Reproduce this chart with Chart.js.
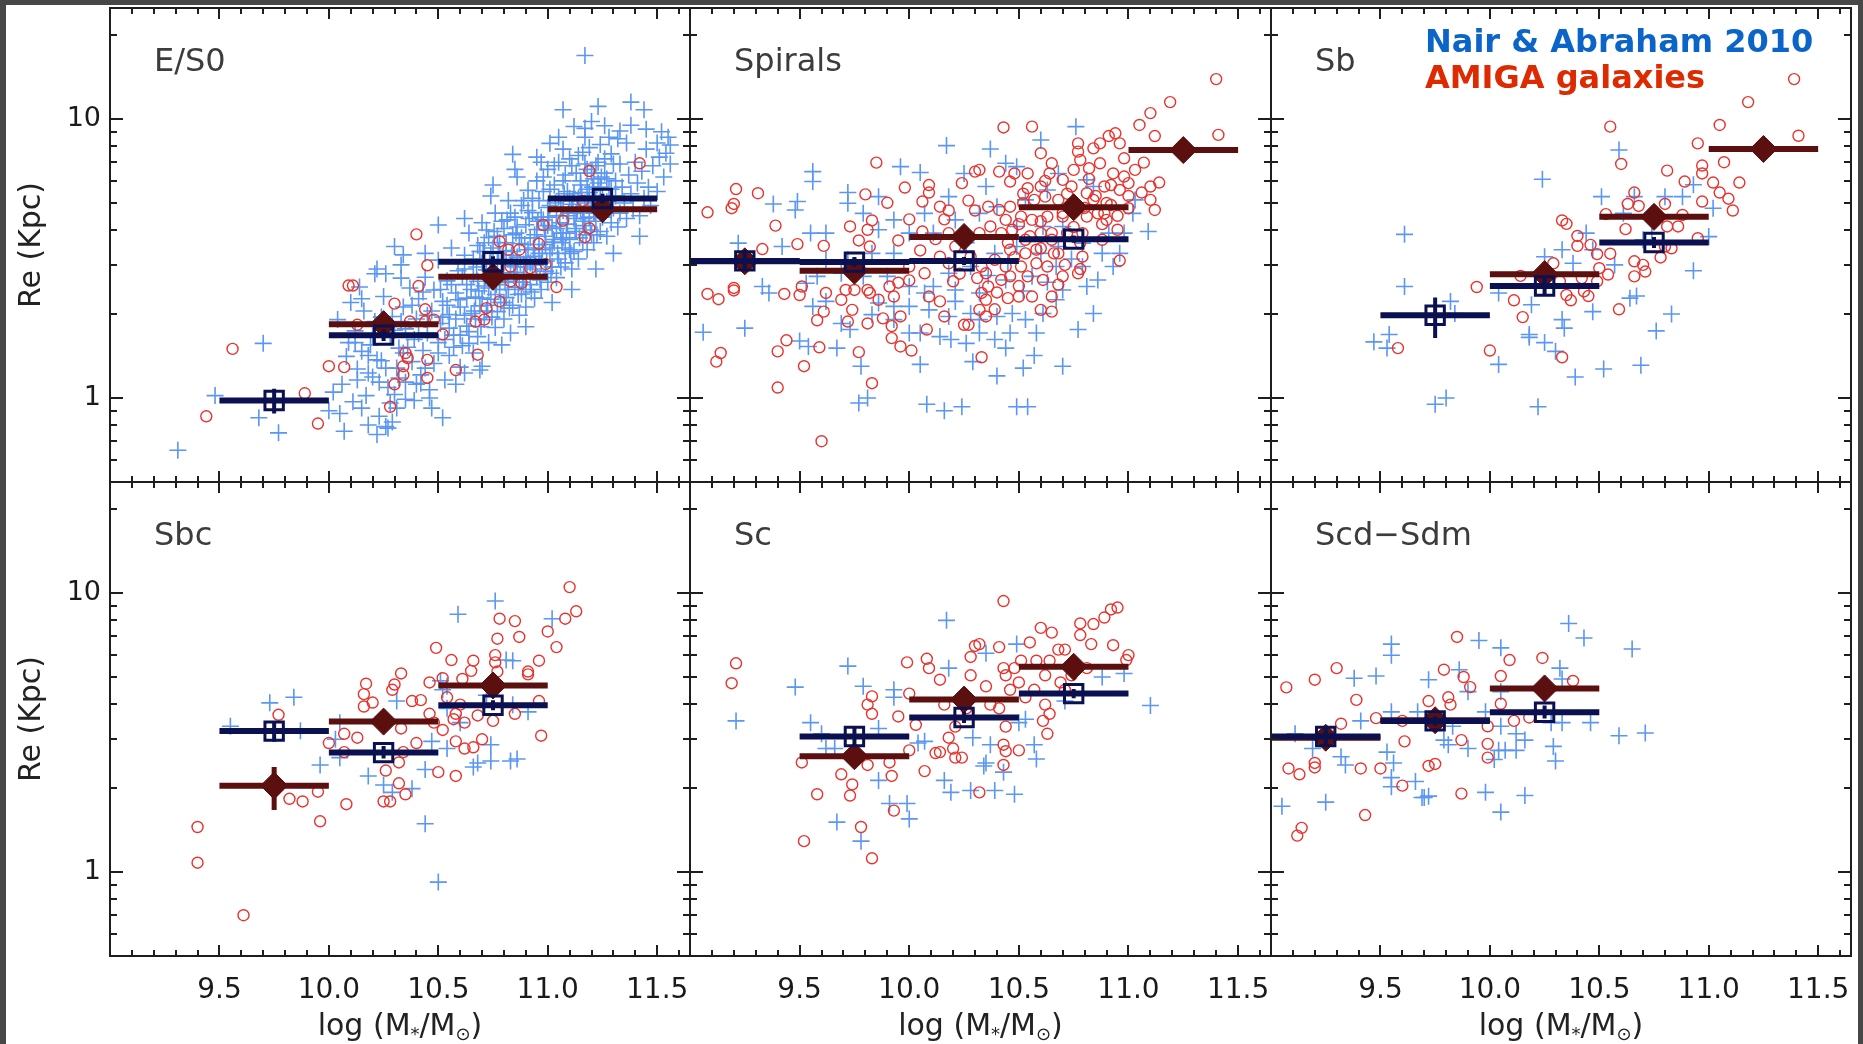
<!DOCTYPE html>
<html>
<head>
<meta charset="utf-8">
<title>Re vs stellar mass</title>
<script src="https://cdn.jsdelivr.net/npm/chart.js@4.4.1/dist/chart.umd.min.js"></script>
<style>
  html, body { margin: 0; padding: 0; }
  body { position: relative; width: 1863px; height: 1044px; overflow: hidden; background: #474747; font-family: 'DejaVu Sans', sans-serif; }
  #sheet { position: absolute; left: 6px; top: 5px; width: 1852px; height: 1039px; background: #fff; }
  canvas { position: absolute; left: 0; top: 0; }
  .panel-label { position: absolute; font-size: 32px; line-height: 32px; color: #3c3c3c; white-space: nowrap; }
  .legend { position: absolute; left: 1425px; font-size: 32px; line-height: 32px; font-weight: bold; white-space: nowrap; }
  .xtitle { position: absolute; width: 400px; text-align: center; font-size: 30px; line-height: 30px; color: #222; white-space: nowrap; }
  .xtitle sub { font-size: 60%; line-height: 0; vertical-align: -0.3em; }
  .ytitle { position: absolute; width: 200px; height: 36px; line-height: 36px; text-align: center; font-size: 30px; color: #222; transform: rotate(-90deg); white-space: nowrap; }
</style>
</head>
<body>
<div id="sheet"></div>
<div id="plots"></div>
<div class="legend" style="top:25px;color:#0b64c8">Nair &amp; Abraham 2010</div>
<div class="legend" style="top:61px;color:#dd2a00">AMIGA galaxies</div>
<script>
// ---- axes ----
const xTickValues = [9.5, 10.0, 10.5, 11.0, 11.5];
const xMinorTicks = [9.1, 9.2, 9.3, 9.4, 9.6, 9.7, 9.8, 9.9, 10.1, 10.2, 10.3, 10.4, 10.6, 10.7, 10.8, 10.9, 11.1, 11.2, 11.3, 11.4, 11.6];
const yTickValues = [1, 10];
const yMinorTicks = [0.6, 0.7, 0.8, 0.9, 2, 3, 4, 5, 6, 7, 8, 9, 20];
const panelNames = ['E/S0', 'Spirals', 'Sb', 'Sbc', 'Sc', 'Scd\u2212Sdm'];
const BIN_HALF = 0.25;

// ---- E/S0 ----
const esoNair = [
  // outskirts
  [9.31,0.65],[9.48,1.02],[9.70,1.57],[9.68,0.85],[9.77,0.75],[10.0,0.90],[10.07,0.76],[10.22,0.74],[10.26,0.79],[10.29,0.82],[10.52,0.85],
  [11.17,16.9],[11.07,10.8],[11.23,11.1],[11.38,11.5],[11.44,10.8],[11.52,9.0],[11.56,8.07],[11.54,7.54],[11.33,9.06],[11.26,9.46],[11.17,9.26],
  [11.01,8.18],[10.84,7.47],[10.50,4.17],[10.30,3.49],[10.34,3.26],[10.21,2.79],[10.26,2.79],[10.33,2.69],[10.15,2.27],[10.04,1.91],[10.09,1.58],
  [10.15,1.47],[10.13,1.16],[10.18,1.23],[10.22,1.37],[10.34,1.45],[10.30,1.03],[10.35,0.99],[10.46,1.00],[10.42,1.13],[10.62,1.23],[10.69,1.26],[10.64,1.57],
  // low-mass end of the band
  [10.06,1.12],[10.08,1.41],[10.11,0.97],[10.12,1.74],[10.13,1.27],[10.16,2.05],[10.17,1.02],[10.19,1.55],[10.20,1.19],[10.21,1.88],[10.23,0.86],
  [10.24,1.36],[10.25,2.31],[10.27,1.09],[10.28,1.66],[10.29,1.96],[10.31,0.92],[10.31,1.28],[10.32,1.51],[10.34,2.12],[10.35,1.14],[10.35,1.77],
  [10.37,2.48],[10.38,1.35],[10.39,0.98],[10.39,1.62],
  [10.12,1.58],[10.15,0.92],[10.18,1.42],[10.20,1.67],[10.23,1.14],[10.24,1.95],[10.26,1.28],[10.28,0.96],[10.30,1.75],[10.32,1.18],[10.33,1.88],
  [10.36,1.52],[10.38,2.15],[10.40,1.12],[10.41,1.70],[10.43,2.40],[10.44,1.28],[10.45,1.98],
  [10.40,1.92],[10.41,2.27],[10.42,1.21],[10.43,1.48],[10.44,2.71],[10.45,1.71],[10.46,1.07],[10.47,2.05],[10.48,1.33],[10.48,2.44],[10.50,1.58],
  [10.50,3.12],[10.51,1.85],[10.52,2.22],[10.53,1.16],[10.54,2.63],[10.55,1.42],[10.55,1.99],[10.56,3.45],[10.57,1.68],[10.58,2.38],[10.59,2.86],
  [10.60,1.29],[10.60,2.12],[10.61,1.54],[10.62,3.25],[10.63,1.81],[10.63,2.55],[10.64,3.90],[10.65,2.01],
  [10.50,1.45],[10.51,2.45],[10.52,1.95],[10.53,1.62],[10.54,2.15],[10.55,1.78],[10.56,2.55],[10.57,1.52],[10.58,1.92],[10.59,2.25],[10.60,1.68],
  [10.61,2.72],[10.62,1.98],[10.63,2.28],[10.64,1.73],[10.65,2.45],[10.66,3.15],[10.67,1.92],[10.68,2.62],[10.69,3.35],[10.70,2.28],
  // core
  [10.66,1.45],[10.66,2.76],[10.67,2.30],[10.68,3.52],[10.68,1.66],[10.69,2.14],[10.70,3.05],[10.70,4.25],[10.71,1.91],[10.71,2.52],[10.72,2.88],
  [10.73,1.58],[10.73,3.76],[10.74,2.26],[10.74,3.30],[10.75,2.64],[10.76,1.79],[10.76,4.60],[10.77,2.04],[10.77,3.12],[10.78,2.45],[10.78,3.61],
  [10.79,2.81],[10.80,1.92],[10.80,4.05],[10.81,2.29],[10.81,3.38],[10.82,2.62],[10.82,5.10],[10.83,2.98],[10.83,1.71],[10.84,3.85],[10.84,2.15],
  [10.85,2.49],[10.85,4.45],[10.86,3.20],[10.86,2.82],[10.87,1.98],[10.87,3.58],[10.88,2.36],[10.88,4.90],[10.89,3.02],[10.89,2.68],[10.90,4.18],
  [10.90,2.12],[10.91,3.40],[10.91,5.55],[10.92,2.55],[10.92,3.75],[10.93,2.90],[10.93,4.62],[10.94,2.28],[10.94,3.22],[10.95,2.72],[10.95,4.02],
  [10.665,2.05],[10.675,2.95],[10.685,2.42],[10.695,1.80],[10.705,3.35],[10.715,2.70],[10.725,2.15],[10.735,3.05],[10.745,1.95],[10.755,3.95],
  [10.765,2.55],[10.775,3.35],[10.785,2.20],[10.795,3.10],[10.805,2.60],[10.815,4.35],[10.825,2.10],[10.835,3.25],[10.845,2.75],[10.855,3.90],
  [10.865,2.35],[10.875,3.05],[10.885,2.60],[10.895,3.55],[10.905,2.95],[10.915,4.40],[10.925,2.40],[10.935,3.45],[10.945,3.00],[10.955,4.30],
  [10.71,3.60],[10.72,2.05],[10.72,4.00],[10.73,2.48],[10.74,2.90],[10.75,3.45],[10.76,2.35],[10.77,3.80],[10.78,2.65],[10.79,4.30],[10.80,3.05],
  [10.80,2.20],[10.81,3.60],[10.82,2.45],[10.83,4.60],[10.84,3.35],[10.85,2.95],[10.86,4.10],[10.87,2.60],[10.88,3.75],[10.89,5.10],[10.90,3.20],[10.90,2.45],
  [10.96,3.55],[10.96,5.10],[10.97,2.45],[10.97,3.05],[10.98,4.35],[10.98,6.20],[10.99,2.85],[10.99,3.80],[11.00,2.60],[11.00,4.82],[11.01,3.30],
  [11.01,5.60],[11.02,2.95],[11.02,4.10],[11.03,3.62],[11.03,6.80],[11.04,2.70],[11.04,4.50],[11.05,3.15],[11.05,5.25],[11.06,3.90],[11.06,2.95],
  [11.07,4.70],[11.07,6.00],[11.08,3.45],[11.08,3.05],[11.09,4.20],[11.09,5.50],[11.10,3.70],[11.10,7.20],[11.11,2.90],[11.11,4.95],[11.12,3.35],
  [11.12,4.40],[11.13,6.40],[11.13,3.95],[11.14,5.20],[11.14,3.15],[11.15,4.65],[11.15,5.80],[11.16,3.60],[11.16,7.60],[11.17,4.15],[11.17,5.00],
  [11.18,3.40],[11.18,6.60],[11.19,4.45],[11.19,5.45],[11.20,3.85],[11.20,4.90],[11.21,6.10],[11.21,3.60],[11.22,5.30],[11.22,4.30],[11.23,7.00],
  [11.23,4.70],[11.24,3.95],[11.24,5.70],
  [10.965,2.65],[10.975,3.40],[10.985,4.00],[10.995,3.10],[11.005,4.45],[11.015,2.80],[11.025,3.70],[11.035,5.00],[11.045,3.30],[11.055,4.25],
  [11.065,3.60],[11.075,5.40],[11.085,3.90],[11.095,4.60],[11.105,3.30],[11.115,5.10],[11.125,4.05],[11.135,4.75],[11.145,3.75],[11.155,5.45],
  [11.165,4.40],[11.175,3.85],[11.185,5.10],[11.195,4.00],[11.205,5.70],[11.215,4.60],[11.225,3.85],[11.235,5.00],[11.245,6.20],
  [10.91,4.70],[10.92,3.05],[10.93,5.20],[10.94,3.85],[10.95,6.00],[10.96,3.30],[10.97,4.45],[10.98,5.50],[10.99,3.55],[11.00,6.60],[11.00,4.15],
  [11.01,4.90],[11.02,3.45],[11.03,5.80],[11.04,4.05],[11.05,7.00],[11.06,4.80],[11.07,3.75],[11.08,6.30],[11.09,4.50],[11.10,5.20],[11.10,3.40],
  [11.11,6.80],[11.12,5.40],[11.13,4.60],[11.14,7.40],[11.15,6.00],[11.16,4.30],[11.17,6.90],[11.18,5.60],[11.19,7.90],[11.20,6.40],[11.21,4.60],
  [11.22,6.80],[11.23,5.90],[11.24,8.10],[11.25,5.20],[11.26,7.20],[11.27,6.10],[11.28,8.60],[11.29,5.60],[11.30,6.90],
  // high-mass end
  [11.25,4.45],[11.26,6.40],[11.27,5.05],[11.27,3.80],[11.28,5.60],[11.29,4.25],[11.29,7.50],[11.30,4.80],[11.31,6.00],[11.31,5.30],[11.32,4.10],
  [11.33,6.90],[11.33,4.60],[11.34,5.70],[11.35,5.00],[11.36,8.20],[11.36,4.40],[11.37,6.30],[11.38,5.40],[11.39,4.75],[11.40,7.00],[11.41,5.90],
  [11.42,4.50],[11.43,6.50],[11.44,5.20],[11.45,7.80],[11.46,5.70],[11.47,4.90],[11.48,6.80],[11.50,5.50],[11.51,7.30],[11.53,6.20],[11.55,8.60],[11.56,6.90],
  // band edges
  [10.02,1.05],[10.05,0.88],[10.10,2.20],[10.14,2.50],[10.18,0.80],[10.22,2.90],[10.27,0.78],[10.33,3.00],[10.44,3.30],[10.47,0.92],[10.58,1.12],
  [10.62,4.40],[10.70,1.30],[10.74,5.30],[10.79,1.55],[10.86,6.20],[10.90,1.80],[10.97,7.00],[11.02,2.20],[11.07,7.80],[11.11,2.45],[11.17,8.60],
  [11.22,2.90],[11.30,3.30],[11.38,9.50],[11.42,3.80],[10.62,2.90],[10.75,5.80],[10.85,6.60],[10.95,7.30],[11.05,8.60],[11.12,9.40],[11.20,9.80],
  [11.32,8.50],[11.45,9.20],[11.50,8.20]
];
const esoAmiga = [
  [9.56,1.50],[9.44,0.86],[9.89,1.04],[9.95,0.81],[10.0,1.30],[10.07,1.29],[10.09,2.53],[10.11,2.53],[10.13,1.83],[10.28,0.93],[10.30,1.12],[10.30,2.18],
  [10.40,3.86],[10.45,2.99],[10.41,2.52],[10.44,2.08],[10.48,1.91],[10.36,1.39],[10.34,1.30],[10.34,1.21],[10.45,1.37],[10.45,1.18],[10.52,1.69],
  [10.58,1.26],[10.68,1.43],[10.67,1.88],[10.71,1.91],[10.72,2.10],[10.78,2.22],[10.78,3.64],[10.82,3.40],[10.87,3.40],[10.96,3.57],[10.83,2.96],
  [10.92,2.92],[10.99,3.02],[10.88,2.58],[10.83,2.62],[11.04,2.50],[10.98,4.17],[11.07,4.32],[11.17,3.77],[11.19,4.06],[11.16,5.09],[11.19,6.51],
  [11.42,6.94],[10.44,1.88],[10.37,1.88],[10.35,1.45]
];
const esoNairBins = [9.75, 10.25, 10.75, 11.25];
const esoNairMean = [0.98, 1.68, 3.08, 5.19];
const esoNairLo = [0.88, 1.60, 2.94, 4.98];
const esoNairHi = [1.08, 1.76, 3.22, 5.40];
const esoAmigaBins = [10.25, 10.75, 11.25];
const esoAmigaMean = [1.84, 2.72, 4.75];
const esoAmigaLo = [1.74, 2.58, 4.52];
const esoAmigaHi = [1.95, 2.86, 4.98];

// ---- Spirals ----
const spiNair = [
  [9.06,1.72],[9.25,1.78],[9.56,6.48],[9.56,5.97],[9.49,5.06],[9.48,4.72],[9.38,4.96],[9.72,5.45],[9.72,4.99],[9.96,6.75],[10.05,6.43],[10.17,8.03],
  [10.37,7.81],[10.60,8.41],[10.76,9.39],[11.09,3.95],[10.84,2.01],[10.77,1.76],[10.70,1.30],[10.57,1.42],[10.52,1.28],[10.44,1.51],[10.40,1.20],
  [10.29,1.35],[10.05,1.32],[9.78,1.30],[9.67,1.51],[9.77,0.96],[9.81,1.00],[10.08,0.95],[10.16,0.90],[10.24,0.93],[10.49,0.93],[10.54,0.93],
  [9.54,1.53],[9.50,1.60],[9.33,2.51],[9.36,2.38],[9.22,3.59],[9.42,3.49],[9.55,3.90],[9.62,3.90],[9.53,2.58],[9.56,2.13],[9.62,2.22],[9.69,1.85],
  [9.73,1.76],[9.83,1.99],[9.86,2.19],[9.93,1.91],[10.0,2.13],[10.05,1.71],[10.14,1.66],[10.19,1.62],[10.26,1.57],[10.18,1.96],[10.21,2.22],
  [10.09,2.07],[10.32,1.91],[10.40,1.96],[10.47,2.01],[10.53,1.91],[10.61,2.01],[10.67,2.25],[10.70,2.44],[10.81,2.51],[10.86,2.65],[10.93,2.96],
  [10.96,3.30],[11.02,4.59],[11.03,5.13],[9.86,5.27],[9.79,4.59],[9.93,4.35],[9.86,4.01],[10.0,3.90],[10.07,4.59],[10.18,5.27],[10.25,6.38],
  [10.35,5.73],[10.44,6.94],[10.49,6.75],[10.68,6.38],[10.81,6.05],[10.84,5.73],[10.63,5.57],[10.53,5.13],[10.40,4.85],[10.32,4.59],[10.21,4.35],
  [10.11,3.90],[9.93,3.30],[9.83,3.30],[9.72,3.13],[9.62,3.13],[9.69,2.80],[9.58,2.73],[9.79,2.73],[9.90,2.73],[10.0,2.51],[10.11,2.51],[10.18,2.80],
  [10.28,2.96],[10.39,3.30],[10.49,3.49],[10.60,3.30],[10.68,3.49],[10.79,3.59],[10.88,3.30],[10.91,3.90],[10.98,3.90],[10.70,4.12],[10.61,4.12],
  [10.49,4.12],[10.44,2.65],[10.56,2.73],[10.67,2.96],[10.79,2.96],[10.32,2.38],[10.21,2.44],[10.07,2.38],[9.93,2.13],[10.0,1.71],[10.46,1.71],
  [10.58,1.71],[10.39,1.62],[10.28,2.01],[10.32,1.71],[10.36,2.75],[10.52,2.42],[10.63,2.60],[10.45,3.05],[10.74,3.15],[10.26,3.60]
];
const spiAmiga = [
  [9.08,4.63],[9.21,5.61],[9.19,4.79],[9.20,4.96],[9.31,5.42],[9.39,4.15],[9.33,3.42],[9.08,2.36],[9.13,2.26],[9.20,2.43],[9.20,2.48],[9.43,2.36],
  [9.50,2.34],[9.51,2.51],[9.49,3.56],[9.61,3.51],[9.14,1.45],[9.12,1.35],[9.40,1.47],[9.44,1.61],[9.59,1.52],[9.52,1.30],[9.40,1.09],[9.60,0.70],
  [9.77,1.46],[9.83,1.13],[9.85,6.98],[9.80,5.37],[9.90,5.01],[9.98,5.68],[9.73,4.12],[9.81,4.01],[9.83,4.33],[9.77,3.67],[9.82,3.49],[9.61,2.04],
  [9.58,1.90],[9.72,1.88],[9.74,2.07],[9.69,2.25],[9.75,2.44],[9.81,2.44],[9.82,2.38],[9.81,1.85],[9.88,1.93],[9.92,1.81],[9.96,1.96],[9.92,1.64],
  [9.96,1.53],[10.01,1.48],[9.91,2.51],[9.95,2.59],[10.0,2.64],[10.0,2.96],[10.05,3.38],[9.95,3.67],[10.0,4.37],[10.06,5.06],[10.09,5.80],[10.09,5.45],
  [10.14,4.85],[10.18,4.70],[10.16,4.37],[10.24,5.89],[10.30,6.48],[10.32,6.57],[10.41,6.48],[10.43,9.33],[10.56,9.39],[10.27,5.10],[10.30,4.70],
  [10.36,4.85],[10.06,3.95],[10.12,3.71],[10.07,2.80],[10.09,2.31],[10.14,2.22],[10.20,2.62],[10.23,2.79],[10.16,1.96],[10.08,1.76],[10.25,1.83],
  [10.27,1.83],[10.33,1.40],[10.32,2.07],[10.35,1.96],[10.39,2.08],[10.35,2.25],[10.33,2.38],[10.36,2.51],[10.31,2.69],[10.35,2.80],[10.40,2.39],
  [10.45,2.28],[10.50,2.31],[10.50,2.52],[10.56,2.31],[10.60,2.07],[10.65,2.04],[10.65,2.31],[10.68,2.55],[10.77,2.80],[10.78,2.90],[10.71,3.00],
  [10.79,3.21],[10.96,3.11],[10.95,4.01],[10.90,4.35],[10.89,4.59],[10.92,4.92],[11.0,4.79],[11.12,4.72],[11.10,5.13],[11.06,5.45],[11.14,5.92],
  [11.10,5.73],[11.07,6.98],[11.03,6.57],[10.98,6.22],[10.98,7.23],[10.96,8.18],[10.94,8.89],[10.91,8.69],[10.87,8.18],[10.84,7.85],[10.77,8.18],
  [10.77,7.64],[10.78,7.13],[10.82,6.66],[10.87,6.94],[11.05,9.52],[11.10,10.5],[11.12,8.69],[11.19,11.5],[11.40,13.9],[11.41,8.77],[10.60,7.54],
  [10.65,6.94],[10.54,6.38],[10.48,6.38],[10.46,5.97],[10.54,5.65],[10.60,5.73],[10.64,6.38],[10.70,6.05],[10.74,5.73],[10.68,5.13],[10.62,5.27],
  [10.57,5.13],[10.52,4.99],[10.46,4.85],[10.41,4.72],[10.44,4.35],[10.51,4.47],[10.56,4.35],[10.63,4.47],[10.70,4.47],[10.81,4.47],[10.86,4.59],
  [10.84,5.13],[10.81,5.42],[10.89,5.73],[10.96,5.57],[11.0,5.89],[10.93,6.38],[10.75,6.57],[10.32,3.90],[10.37,4.12],[10.42,3.90],[10.47,4.01],
  [10.53,3.69],[10.60,3.90],[10.65,3.69],[10.72,3.90],[10.79,3.90],[10.88,3.69],[10.46,3.40],[10.53,3.30],[10.60,3.44],[10.66,3.30],[10.39,3.13],
  [10.44,2.96],[10.51,2.96],[10.58,3.04],[10.63,2.96],[10.70,2.73],[10.61,2.65],[10.54,2.73],[10.46,2.73],[10.42,2.65],[10.18,3.90],[10.21,3.49],
  [10.14,3.21],[10.18,3.04],[10.28,3.21],[10.33,2.96],[9.93,2.31],[9.86,2.25],[9.71,2.44],[9.62,2.38],
  [10.45,3.60],[10.50,4.20],[10.55,3.80],[10.60,4.30],[10.65,3.90],[10.70,4.60],[10.75,4.10],[10.80,4.80],[10.85,5.30],[10.90,5.00],[10.52,5.40],
  [10.62,6.00],[10.72,5.40],[10.82,6.10],[10.92,5.80],[10.48,3.20],[10.58,3.40],[10.68,3.30],[10.78,3.60],[10.88,4.20],[10.95,4.50],[11.0,5.30]
];
const spiNairBins = [9.25, 9.75, 10.25, 10.75];
const spiNairMean = [3.10, 3.07, 3.10, 3.71];
const spiNairLo = [2.90, 2.95, 3.00, 3.60];
const spiNairHi = [3.30, 3.20, 3.20, 3.82];
const spiAmigaBins = [9.25, 9.75, 10.25, 10.75, 11.25];
const spiAmigaMean = [3.09, 2.86, 3.78, 4.83, 7.74];
const spiAmigaLo = [2.85, 2.75, 3.66, 4.70, 7.50];
const spiAmigaHi = [3.35, 2.98, 3.90, 4.96, 8.00];

// ---- Sb ----
const sbNair = [
  [9.61,3.86],[9.61,2.51],[9.47,1.59],[9.54,1.69],[9.53,1.51],[9.75,0.95],[9.80,1.00],[9.82,2.22],[9.84,2.01],[10.04,2.38],[10.04,1.32],[10.18,1.69],
  [10.18,1.65],[10.19,2.16],[10.25,1.58],[10.30,1.47],[10.24,6.08],[10.25,3.21],[10.33,3.40],[10.33,1.91],[10.34,1.78],[10.39,1.19],[10.38,3.04],
  [10.44,3.90],[10.47,2.04],[10.51,5.27],[10.52,1.27],[10.57,3.00],[10.59,7.74],[10.64,2.28],[10.67,2.32],[10.69,1.31],[10.76,1.74],[10.83,2.00],
  [10.93,2.86],[10.88,5.27],[10.93,5.81],[10.80,5.27],[11.02,4.79],[11.0,3.79],[10.66,5.27],[10.61,4.59],[10.70,3.69],[10.74,3.90],[10.47,3.40],[10.22,0.93]
];
const sbAmiga = [
  [11.39,13.9],[11.18,11.5],[11.05,9.52],[11.41,8.71],[10.55,9.39],[10.60,6.90],[10.95,8.18],[10.97,6.81],[10.97,6.38],[11.07,7.00],[10.81,6.53],
  [10.89,5.97],[11.02,5.92],[11.14,5.92],[11.05,5.45],[11.09,5.18],[11.11,4.70],[10.97,5.06],[10.66,5.45],[10.63,4.96],[10.68,4.88],[10.80,4.96],
  [10.88,4.53],[10.86,4.12],[10.81,4.12],[10.62,4.03],[10.53,4.56],[10.95,3.74],[10.33,4.33],[10.35,4.21],[10.40,3.81],[10.40,3.51],[10.46,3.54],
  [10.49,3.28],[10.55,3.29],[10.29,3.04],[10.66,3.09],[10.70,3.00],[10.71,2.84],[10.66,2.73],[10.50,2.92],[10.54,2.77],[10.80,3.49],[10.83,3.44],
  [10.78,3.19],[10.14,2.74],[10.32,2.62],[10.42,2.69],[10.49,2.62],[10.35,2.34],[10.45,2.32],[10.37,2.24],[10.43,2.41],[10.11,2.24],[9.94,2.50],
  [10.15,1.95],[10.59,2.08],[10.0,1.48],[9.58,1.51],[10.33,1.40]
];
const sbNairBins = [9.75, 10.25, 10.75];
const sbNairMean = [1.98, 2.52, 3.61];
const sbNairLo = [1.64, 2.36, 3.45];
const sbNairHi = [2.29, 2.70, 3.78];
const sbAmigaBins = [10.25, 10.75, 11.25];
const sbAmigaMean = [2.78, 4.46, 7.81];
const sbAmigaLo = [2.65, 4.30, 7.50];
const sbAmigaHi = [2.92, 4.63, 8.12];

// ---- Sbc ----
const sbcNair = [
  [10.76,9.36],[10.59,8.39],[11.02,8.09],[10.81,5.75],[10.84,5.72],[9.73,4.04],[9.84,4.23],[9.55,3.33],[9.87,3.21],[10.31,4.10],[10.51,4.85],
  [10.52,4.50],[10.54,4.63],[10.03,2.99],[10.05,3.43],[9.96,2.42],[10.05,2.57],[10.18,2.21],[10.25,2.05],[10.29,1.93],[10.38,1.99],[10.44,2.33],
  [10.47,2.94],[10.54,2.77],[10.66,2.38],[10.68,2.46],[10.74,2.50],[10.74,2.86],[10.83,2.50],[10.86,2.54],[10.91,3.75],[10.72,4.30],[10.54,3.86],
  [10.60,3.43],[10.44,1.49],[10.50,0.92],[10.84,3.98]
];
const sbcAmiga = [
  [11.10,10.5],[11.13,8.60],[11.08,8.09],[11.0,7.28],[11.04,6.40],[10.78,8.09],[10.85,7.93],[10.77,6.86],[10.87,6.96],[10.49,6.36],[10.56,5.75],
  [10.66,5.72],[10.76,5.99],[10.76,5.64],[10.96,5.72],[10.91,5.23],[10.91,5.11],[10.65,5.26],[10.61,4.92],[10.77,5.23],[10.52,4.95],[10.46,4.78],
  [10.33,5.15],[10.30,4.70],[10.17,4.73],[10.16,4.34],[10.20,4.05],[10.16,3.92],[10.29,4.50],[10.38,4.10],[10.42,4.13],[10.54,4.23],[10.60,3.98],
  [10.57,3.53],[10.62,3.43],[10.58,3.69],[10.46,3.69],[10.48,3.43],[10.52,3.23],[10.68,3.64],[10.75,3.48],[10.96,4.10],[10.85,3.69],[10.97,3.08],
  [10.70,2.99],[10.66,2.80],[10.62,2.77],[10.58,2.94],[10.33,3.27],[10.40,2.90],[10.50,2.28],[10.58,2.21],[10.34,2.69],[10.32,2.47],[10.26,2.31],
  [10.25,1.79],[10.28,1.79],[10.32,2.08],[10.35,1.90],[10.08,1.75],[10.07,3.13],[10.13,3.03],[10.0,2.90],[10.07,2.69],[9.77,3.66],[9.82,1.83],
  [9.88,1.79],[9.95,1.94],[9.96,1.52],[9.40,1.45],[9.40,1.08],[9.61,0.70]
];
const sbcNairBins = [9.75, 10.25, 10.75];
const sbcNairMean = [3.20, 2.68, 3.96];
const sbcNairLo = [2.93, 2.55, 3.80];
const sbcNairHi = [3.47, 2.83, 4.13];
const sbcAmigaBins = [9.75, 10.25, 10.75];
const sbcAmigaMean = [2.04, 3.46, 4.66];
const sbcAmigaLo = [1.67, 3.32, 4.50];
const sbcAmigaHi = [2.38, 3.60, 4.83];

// ---- Sc ----
const scNair = [
  [9.21,3.48],[9.48,4.60],[9.72,5.47],[10.17,7.98],[11.10,3.95],[9.67,1.51],[9.78,1.29],[10.0,1.55],[9.91,1.76],[9.99,1.76],[9.55,3.43],[9.60,3.13],
  [9.66,2.77],[9.62,2.77],[9.79,4.63],[9.86,3.27],[9.93,4.50],[9.93,4.23],[9.86,2.13],[10.04,2.90],[10.07,2.94],[10.18,5.38],[10.16,2.13],[10.19,1.93],
  [10.28,1.96],[10.29,3.03],[10.34,2.40],[10.35,2.46],[10.39,1.96],[10.48,1.90],[10.43,2.28],[10.37,2.86],[10.35,6.08],[10.49,6.56],[10.53,3.53],
  [10.57,2.86],[10.58,2.54],[10.88,5.00],[10.98,5.15],[10.50,3.43],[10.71,4.10]
];
const scAmiga = [
  [9.21,5.60],[9.19,4.75],[9.52,1.29],[9.83,1.12],[9.78,1.45],[9.73,1.88],[9.58,1.90],[9.74,2.06],[9.69,2.24],[9.51,2.47],[9.93,1.66],[9.92,2.21],
  [9.81,2.42],[9.91,2.47],[10.0,2.73],[10.07,2.30],[10.12,2.67],[10.14,2.69],[10.21,2.57],[10.24,2.57],[10.32,1.93],[10.20,2.77],[10.43,2.42],
  [10.44,2.71],[10.50,2.73],[9.83,4.26],[9.81,3.98],[9.83,3.69],[9.95,3.61],[10.0,4.36],[10.03,3.37],[9.99,5.64],[10.08,5.81],[10.09,5.38],[10.14,4.89],
  [10.16,3.98],[10.18,3.03],[10.21,3.32],[10.26,3.86],[10.28,5.07],[10.28,5.90],[10.30,6.46],[10.32,6.56],[10.41,6.40],[10.43,9.36],[10.35,4.63],
  [10.37,3.98],[10.41,3.86],[10.43,5.38],[10.44,5.07],[10.46,4.50],[10.44,3.32],[10.43,2.86],[10.48,5.38],[10.50,4.78],[10.51,5.72],[10.55,6.65],
  [10.60,7.50],[10.65,7.21],[10.58,5.72],[10.64,5.72],[10.68,6.27],[10.78,7.78],[10.78,7.07],[10.84,7.74],[10.89,8.17],[10.92,8.73],[10.95,8.87],
  [10.83,6.56],[10.93,6.50],[11.0,5.99],[10.99,5.75],[10.71,6.27],[10.62,5.07],[10.57,4.50],[10.62,3.98],[10.53,4.23],[10.64,3.69],[10.61,3.48],
  [10.63,3.13],[10.69,4.78],[10.74,5.07],[10.81,5.38],[10.71,4.50]
];
const scNairBins = [9.75, 10.25, 10.75];
const scNairMean = [3.06, 3.58, 4.36];
const scNairLo = [2.85, 3.42, 4.20];
const scNairHi = [3.30, 3.75, 4.53];
const scAmigaBins = [9.75, 10.25, 10.75];
const scAmigaMean = [2.60, 4.15, 5.44];
const scAmigaLo = [2.50, 4.00, 5.25];
const scAmigaHi = [2.71, 4.30, 5.64];

// ---- Scd-Sdm ----
const scdNair = [
  [9.05,1.72],[9.25,1.78],[9.11,3.13],[9.19,2.77],[9.32,2.59],[9.34,2.42],[9.38,4.95],[9.41,3.48],[9.48,5.04],[9.55,6.56],[9.55,5.98],[9.55,3.75],
  [9.53,2.69],[9.56,2.46],[9.55,2.18],[9.55,2.02],[9.66,2.11],[9.69,1.85],[9.70,1.85],[9.72,1.87],[9.67,3.75],[9.72,4.89],[9.79,2.97],[9.81,2.86],
  [9.86,5.31],[9.90,4.43],[9.90,2.77],[9.83,3.33],[9.95,6.76],[10.05,6.36],[10.05,4.43],[10.04,2.73],[10.07,2.73],[9.98,3.75],[10.05,3.33],[10.12,3.13],
  [10.16,2.97],[10.12,2.73],[9.98,1.93],[10.05,1.64],[10.16,1.88],[10.02,2.53],[10.29,2.82],[10.30,2.50],[10.32,5.38],[10.33,4.92],[10.28,3.43],
  [10.33,3.43],[10.36,7.78],[10.43,6.90],[10.46,3.43],[10.59,3.08],[10.71,3.15],[10.65,6.30]
];
const scdAmiga = [
  [9.07,4.59],[9.20,4.89],[9.30,5.38],[9.39,4.14],[9.32,3.40],[9.08,2.35],[9.13,2.24],[9.20,2.46],[9.20,2.37],[9.14,1.44],[9.12,1.35],[9.41,2.35],
  [9.50,2.35],[9.43,1.60],[9.60,2.04],[9.61,2.94],[9.48,3.56],[9.60,3.48],[9.72,2.40],[9.75,2.44],[9.87,1.91],[9.87,2.97],[9.72,4.10],[9.79,5.31],
  [9.88,5.00],[9.91,4.60],[9.85,6.96],[9.81,4.23],[9.82,3.98],[9.99,3.33],[9.99,2.88],[9.99,2.57],[10.05,5.04],[10.05,4.01],[10.09,5.75],[10.11,3.48],
  [10.18,3.58],[10.24,5.85],[10.38,4.84]
];
const scdNairBins = [9.25, 9.75, 10.25];
const scdNairMean = [3.06, 3.48, 3.74];
const scdNairLo = [2.85, 3.35, 3.55];
const scdNairHi = [3.30, 3.62, 3.95];
const scdAmigaBins = [9.25, 9.75, 10.25];
const scdAmigaMean = [3.03, 3.50, 4.55];
const scdAmigaLo = [2.90, 3.36, 4.42];
const scdAmigaHi = [3.17, 3.65, 4.70];

// ---- layout ----
const W = 1863, H = 1044;
const FRAME_LEFT = 110, FRAME_RIGHT = 1851;
const ROW_TOPS = [8, 482], ROW_BOTTOMS = [482, 956];
const PANEL_W = (FRAME_RIGHT - FRAME_LEFT) / 3;
const Y_LABEL_BOX = 100, X_LABEL_BOX = 80;

const NAVY = '#0b1050';
const MAROON = '#5c0f0f';
const CROSS_BLUE = '#5a96f2';
const CIRCLE_RED = '#e8332e';
const AXIS_INK = '#1e1e1e';

const panels = [
  { nair: esoNair, amiga: esoAmiga, nb: esoNairBins, nm: esoNairMean, nl: esoNairLo, nh: esoNairHi, ab: esoAmigaBins, am: esoAmigaMean, al: esoAmigaLo, ah: esoAmigaHi },
  { nair: spiNair, amiga: spiAmiga, nb: spiNairBins, nm: spiNairMean, nl: spiNairLo, nh: spiNairHi, ab: spiAmigaBins, am: spiAmigaMean, al: spiAmigaLo, ah: spiAmigaHi },
  { nair: sbNair, amiga: sbAmiga, nb: sbNairBins, nm: sbNairMean, nl: sbNairLo, nh: sbNairHi, ab: sbAmigaBins, am: sbAmigaMean, al: sbAmigaLo, ah: sbAmigaHi },
  { nair: sbcNair, amiga: sbcAmiga, nb: sbcNairBins, nm: sbcNairMean, nl: sbcNairLo, nh: sbcNairHi, ab: sbcAmigaBins, am: sbcAmigaMean, al: sbcAmigaLo, ah: sbcAmigaHi },
  { nair: scNair, amiga: scAmiga, nb: scNairBins, nm: scNairMean, nl: scNairLo, nh: scNairHi, ab: scAmigaBins, am: scAmigaMean, al: scAmigaLo, ah: scAmigaHi },
  { nair: scdNair, amiga: scdAmiga, nb: scdNairBins, nm: scdNairMean, nl: scdNairLo, nh: scdNairHi, ab: scdAmigaBins, am: scdAmigaMean, al: scdAmigaLo, ah: scdAmigaHi }
];

function toPoints(pairs) {
  return pairs.map(p => ({ x: p[0], y: p[1] }));
}

// horizontal bin bars, broken with nulls
function barPoints(bins, mean) {
  const pts = [];
  bins.forEach((c, i) => {
    pts.push({ x: c - BIN_HALF, y: mean[i] }, { x: c + BIN_HALF, y: mean[i] }, { x: c + BIN_HALF, y: null });
  });
  return pts;
}

function errPoints(bins, lo, hi) {
  const pts = [];
  bins.forEach((c, i) => {
    pts.push({ x: c, y: lo[i] }, { x: c, y: hi[i] }, { x: c, y: null });
  });
  return pts;
}

function segmentSet(data, color, width, order) {
  return {
    type: 'line', data, borderColor: color, borderWidth: width, borderCapStyle: 'butt',
    pointRadius: 0, spanGaps: false, fill: false, tension: 0, order
  };
}

// inward ticks on all four sides plus the frame
const frameTicks = {
  id: 'frameTicks',
  afterDatasetsDraw(chart) {
    const { ctx, chartArea: a, scales: { x, y } } = chart;
    ctx.save();
    ctx.strokeStyle = AXIS_INK;
    ctx.lineWidth = 2;
    ctx.beginPath();
    const xt = (v, len) => {
      const px = Math.round(x.getPixelForValue(v));
      ctx.moveTo(px, a.bottom); ctx.lineTo(px, a.bottom - len);
      ctx.moveTo(px, a.top); ctx.lineTo(px, a.top + len);
    };
    const yt = (v, len) => {
      const py = Math.round(y.getPixelForValue(v));
      ctx.moveTo(a.left, py); ctx.lineTo(a.left + len, py);
      ctx.moveTo(a.right, py); ctx.lineTo(a.right - len, py);
    };
    xMinorTicks.forEach(v => xt(v, 6));
    xTickValues.forEach(v => xt(v, 11));
    yMinorTicks.forEach(v => yt(v, 7));
    yTickValues.forEach(v => yt(v, 13));
    ctx.stroke();
    ctx.strokeRect(a.left, a.top, a.right - a.left, a.bottom - a.top);
    ctx.restore();
  }
};

const plots = document.getElementById('plots');

panels.forEach((p, i) => {
  const row = Math.floor(i / 3), col = i % 3;
  const left = Math.round(FRAME_LEFT + col * PANEL_W);
  const right = Math.round(FRAME_LEFT + (col + 1) * PANEL_W);
  const top = ROW_TOPS[row], bottom = ROW_BOTTOMS[row];
  const yBox = col === 0 ? Y_LABEL_BOX : 0;
  const xBox = row === 1 ? X_LABEL_BOX : 0;

  const canvas = document.createElement('canvas');
  canvas.width = W; canvas.height = H;
  plots.appendChild(canvas);

  const zeroPad = s => { s.paddingLeft = 0; s.paddingRight = 0; s.paddingTop = 0; s.paddingBottom = 0; };

  new Chart(canvas, {
    type: 'scatter',
    data: {
      datasets: [
        { data: toPoints(p.nair), pointStyle: 'cross', pointRadius: 8.5, pointBorderWidth: 1.6, pointBorderColor: CROSS_BLUE, borderColor: CROSS_BLUE, order: 10 },
        { data: toPoints(p.amiga), pointStyle: 'circle', pointRadius: 5.5, pointBorderWidth: 1.4, pointBorderColor: CIRCLE_RED, pointBackgroundColor: 'rgba(0,0,0,0)', borderColor: CIRCLE_RED, order: 9 },
        segmentSet(barPoints(p.ab, p.am), MAROON, 6, 8),
        segmentSet(errPoints(p.ab, p.al, p.ah), MAROON, 5, 7),
        { data: p.ab.map((c, k) => ({ x: c, y: p.am[k] })), pointStyle: 'rectRot', pointRadius: 13.5, pointBorderWidth: 1, pointBorderColor: MAROON, pointBackgroundColor: MAROON, order: 6 },
        segmentSet(barPoints(p.nb, p.nm), NAVY, 6, 5),
        segmentSet(errPoints(p.nb, p.nl, p.nh), NAVY, 4, 4),
        { data: p.nb.map((c, k) => ({ x: c, y: p.nm[k] })), pointStyle: 'rect', pointRadius: 13, pointBorderWidth: 3, pointBorderColor: NAVY, pointBackgroundColor: 'rgba(0,0,0,0)', order: 3 }
      ]
    },
    options: {
      responsive: false,
      animation: false,
      events: [],
      layout: { autoPadding: false, padding: { left: left - yBox, top, right: W - right, bottom: H - bottom - xBox } },
      plugins: { legend: { display: false }, title: { display: false }, tooltip: { enabled: false } },
      scales: {
        x: {
          type: 'linear', min: 9.0, max: 11.65,
          grid: { display: false, drawTicks: false }, border: { display: false },
          afterBuildTicks: s => { s.ticks = xTickValues.map(v => ({ value: v })); },
          afterFit: s => { s.height = xBox; zeroPad(s); },
          ticks: {
            display: row === 1, autoSkip: false, maxRotation: 0, minRotation: 0, padding: 18,
            color: '#1a1a1a', font: { family: "'DejaVu Sans', sans-serif", size: 28 },
            callback: v => Number(v).toFixed(1)
          }
        },
        y: {
          type: 'logarithmic', min: 0.5, max: 25,
          grid: { display: false, drawTicks: false }, border: { display: false },
          afterBuildTicks: s => { s.ticks = yTickValues.map(v => ({ value: v })); },
          afterFit: s => { s.width = yBox; zeroPad(s); },
          ticks: {
            display: col === 0, autoSkip: false, padding: 9,
            color: '#1a1a1a', font: { family: "'DejaVu Sans', sans-serif", size: 27 },
            callback: v => String(v)
          }
        }
      }
    },
    plugins: [frameTicks]
  });

  // panel name
  const name = document.createElement('div');
  name.className = 'panel-label';
  name.textContent = panelNames[i];
  name.style.left = (left + 44) + 'px';
  name.style.top = (top + 36) + 'px';
  document.body.appendChild(name);

  if (row === 1) {
    const xt = document.createElement('div');
    xt.className = 'xtitle';
    xt.innerHTML = 'log (M<sub>*</sub>/M<sub>\u2299</sub>)';
    xt.style.left = ((left + right) / 2 - 200) + 'px';
    xt.style.top = '1010px';
    document.body.appendChild(xt);
  }
  if (col === 0) {
    const yt = document.createElement('div');
    yt.className = 'ytitle';
    yt.textContent = 'Re (Kpc)';
    yt.style.left = (30 - 100) + 'px';
    yt.style.top = ((top + bottom) / 2 - 18) + 'px';
    document.body.appendChild(yt);
  }
});
</script>
</body>
</html>
